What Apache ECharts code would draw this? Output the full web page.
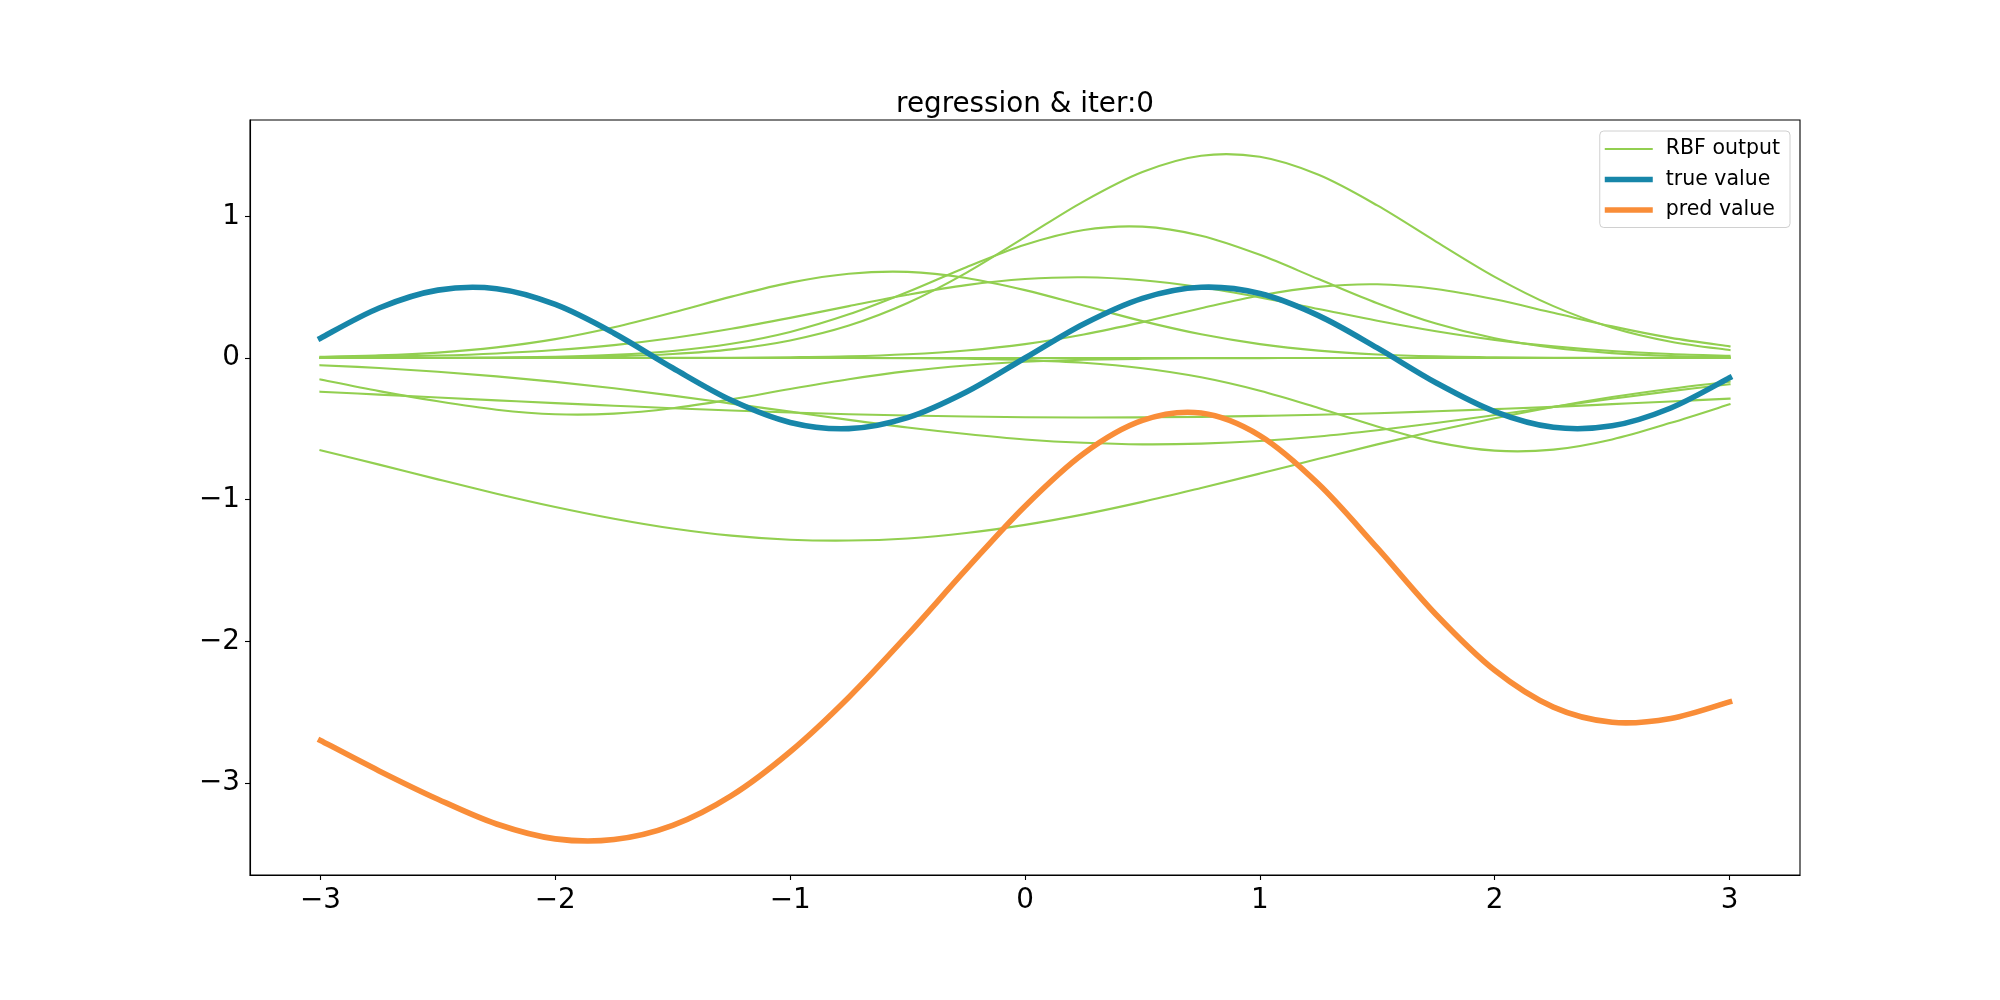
<!DOCTYPE html>
<html>
<head>
<meta charset="utf-8">
<script src="https://cdn.jsdelivr.net/npm/echarts@6/dist/echarts.min.js"></script>
<style>
html,body{margin:0;padding:0;background:#fff;}
#chart{width:2000px;height:1000px;}
</style>
</head>
<body>
<div id="chart"></div>
<script>
// ---- data ----
const titleText = 'regression & iter:0';
const xs = [-3,-2.75,-2.5,-2.25,-2,-1.75,-1.5,-1.25,-1,-0.75,-0.5,-0.25,0,0.25,0.5,0.75,1,1.25,1.5,1.75,2,2.25,2.5,2.75,3];
const xTicks = [-3,-2,-1,0,1,2,3];
const yTicks = [-3,-2,-1,0,1];

const rbfA = [0.000,0.000,0.000,0.002,0.004,0.011,0.028,0.061,0.124,0.229,0.388,0.601,0.853,1.106,1.313,1.428,1.420,1.293,1.077,0.822,0.573,0.366,0.214,0.115,0.056];
const rbfB = [0.000,0.000,0.001,0.003,0.009,0.022,0.049,0.100,0.184,0.308,0.466,0.641,0.800,0.904,0.927,0.863,0.728,0.557,0.387,0.243,0.139,0.072,0.034,0.014,0.006];
const rbfC = [0.008,0.018,0.038,0.075,0.133,0.217,0.321,0.433,0.532,0.595,0.608,0.565,0.479,0.370,0.260,0.167,0.098,0.052,0.025,0.011,0.005,0.002,0.001,0.000,0.000];
const rbfD = [0.004,0.009,0.017,0.032,0.056,0.091,0.141,0.206,0.283,0.366,0.446,0.514,0.557,0.570,0.549,0.499,0.428,0.346,0.263,0.189,0.128,0.082,0.049,0.028,0.015];
const rbfE = [0.000,0.000,0.000,0.000,0.000,0.000,0.001,0.002,0.005,0.011,0.026,0.053,0.098,0.166,0.253,0.351,0.441,0.502,0.520,0.487,0.414,0.319,0.223,0.142,0.082];
const rbfF = [0.000,0.000,0.000,0.000,0.000,0.000,0.000,0.000,0.000,0.000,0.000,0.000,0.000,0.000,0.000,0.000,0.000,0.000,0.000,0.000,0.000,0.000,0.000,0.000,0.000];
const rbfG = [-0.051,-0.071,-0.097,-0.130,-0.169,-0.214,-0.266,-0.322,-0.379,-0.437,-0.491,-0.537,-0.575,-0.599,-0.610,-0.605,-0.586,-0.554,-0.510,-0.459,-0.403,-0.345,-0.288,-0.234,-0.186];
const rbfH = [-0.152,-0.234,-0.306,-0.365,-0.397,-0.393,-0.355,-0.292,-0.219,-0.150,-0.093,-0.053,-0.027,-0.013,-0.006,-0.002,-0.001,0.000,0.000,0.000,0.000,0.000,0.000,0.000,0.000];
const rbfI = [-0.238,-0.259,-0.279,-0.299,-0.319,-0.337,-0.355,-0.371,-0.385,-0.397,-0.406,-0.413,-0.418,-0.420,-0.419,-0.416,-0.409,-0.401,-0.390,-0.376,-0.361,-0.345,-0.326,-0.307,-0.287];
const rbfJ = [-0.651,-0.753,-0.857,-0.958,-1.052,-1.135,-1.204,-1.254,-1.283,-1.289,-1.274,-1.236,-1.178,-1.104,-1.016,-0.918,-0.816,-0.712,-0.610,-0.514,-0.426,-0.346,-0.276,-0.217,-0.167];
const rbfK = [0.000,0.000,0.000,0.000,0.000,0.000,0.000,0.000,0.000,0.000,-0.002,-0.006,-0.015,-0.034,-0.072,-0.136,-0.231,-0.353,-0.483,-0.594,-0.654,-0.647,-0.575,-0.458,-0.327];

const trueValue = [0.140,0.353,0.479,0.489,0.378,0.175,-0.071,-0.299,-0.455,-0.499,-0.421,-0.240,0.000,0.240,0.421,0.499,0.455,0.299,0.071,-0.175,-0.378,-0.489,-0.479,-0.353,-0.140];
const predValue = [-2.700,-2.915,-3.115,-3.290,-3.395,-3.400,-3.300,-3.090,-2.780,-2.395,-1.955,-1.491,-1.046,-0.674,-0.441,-0.389,-0.548,-0.890,-1.341,-1.811,-2.205,-2.465,-2.572,-2.545,-2.428];

const rbfCurves = [rbfA, rbfB, rbfC, rbfD, rbfE, rbfF, rbfG, rbfH, rbfI, rbfJ, rbfK];
const names = ['RBF output', 'true value', 'pred value'];

// ---- styling ----
const GREEN = '#92cf50';
const BLUE = '#1786a9';
const ORANGE = '#f98d38';
const FONT = 'DejaVu Sans';

function pairs(vals) { return xs.map((x, i) => [x, vals[i]]); }

// smooth curve through the pixel points that the axes give for each data point
function curvePath(pts) {
  let d = 'M' + pts[0][0] + ' ' + pts[0][1];
  for (let i = 0; i < pts.length - 1; i++) {
    const p0 = pts[i - 1] || pts[i], p1 = pts[i], p2 = pts[i + 1], p3 = pts[i + 2] || pts[i + 1];
    const c1x = p1[0] + (p2[0] - p0[0]) / 6, c1y = p1[1] + (p2[1] - p0[1]) / 6;
    const c2x = p2[0] - (p3[0] - p1[0]) / 6, c2y = p2[1] - (p3[1] - p1[1]) / 6;
    d += ' C' + c1x + ' ' + c1y + ' ' + c2x + ' ' + c2y + ' ' + p2[0] + ' ' + p2[1];
  }
  return d;
}

function curveSeries(name, vals, color, width) {
  return {
    type: 'custom', name: name, coordinateSystem: 'cartesian2d',
    data: pairs(vals), encode: { x: 0, y: 1 },
    itemStyle: { color: color },
    silent: true, clip: true,
    renderItem: function (params, api) {
      if (params.dataIndex !== 0) return null;
      const pts = xs.map((x, i) => api.coord([x, vals[i]]));
      return {
        type: 'path',
        shape: { pathData: curvePath(pts) },
        style: { stroke: color, lineWidth: width, fill: 'none', lineCap: 'square', lineJoin: 'round' },
        silent: true
      };
    }
  };
}

const series = rbfCurves.map(c => curveSeries(names[0], c, GREEN, 2.1));
series.push(curveSeries(names[1], trueValue, BLUE, 5.6));
series.push(curveSeries(names[2], predValue, ORANGE, 5.6));

const minus = v => String(v).replace('-', '\u2212');

const chart = echarts.init(document.getElementById('chart'), null, { renderer: 'canvas' });
chart.setOption({
  animation: false,
  backgroundColor: '#ffffff',
  title: {
    text: titleText, left: 1025, top: 90.5, textAlign: 'center', padding: 0,
    textStyle: { fontFamily: FONT, fontSize: 27.8, fontWeight: 'normal', color: '#000' }
  },
  legend: {
    orient: 'vertical', right: 210, top: 131,
    padding: [7.5, 10, 7, 5],
    itemWidth: 48, itemHeight: 22, itemGap: 9.5,
    backgroundColor: '#ffffff', borderColor: '#d0d0d0', borderWidth: 1, borderRadius: 4,
    textStyle: { fontFamily: FONT, fontSize: 20.5, color: '#000', padding: [0, 0, 0, 8] },
    data: [
      { name: names[0], icon: 'path://M0,0H46V2.1H0Z', itemStyle: { color: GREEN } },
      { name: names[1], icon: 'path://M0,0H48V5.6H0Z', itemStyle: { color: BLUE } },
      { name: names[2], icon: 'path://M0,0H48V5.6H0Z', itemStyle: { color: ORANGE } }
    ],
    selectedMode: false
  },
  grid: {
    left: 250, right: 200, top: 120, bottom: 125,
    show: true, borderColor: '#000', borderWidth: 1.1, backgroundColor: 'transparent'
  },
  xAxis: {
    type: 'value', min: -3.3, max: 3.3,
    axisLine: { show: true, onZero: false, lineStyle: { color: '#000', width: 1.1 } },
    axisTick: { show: true, length: 5, lineStyle: { color: '#000', width: 1.1 }, customValues: xTicks },
    axisLabel: { customValues: xTicks, margin: 11.5, fontFamily: FONT, fontSize: 27.8, color: '#000', formatter: minus },
    splitLine: { show: false }
  },
  yAxis: {
    type: 'value', min: -3.65, max: 1.68,
    axisLine: { show: true, onZero: false, lineStyle: { color: '#000', width: 1.1 } },
    axisTick: { show: true, length: 5, lineStyle: { color: '#000', width: 1.1 }, customValues: yTicks },
    axisLabel: { customValues: yTicks, margin: 10, fontFamily: FONT, fontSize: 27.8, color: '#000', formatter: minus },
    splitLine: { show: false }
  },
  series: series
});
</script>
</body>
</html>
